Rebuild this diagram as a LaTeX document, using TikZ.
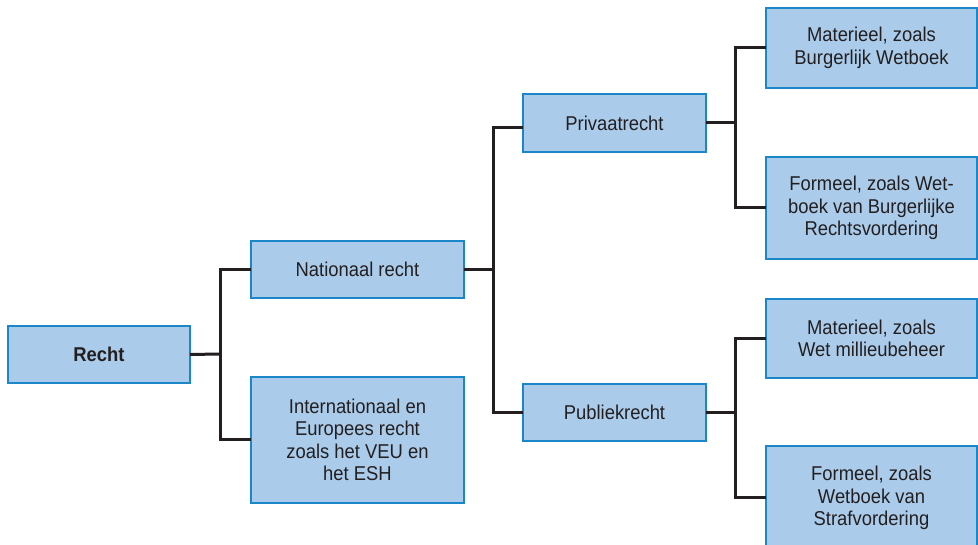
\documentclass[tikz,border=0pt]{standalone}
\usepackage{fontspec}
\setmainfont[FakeStretch=0.92]{Liberation Sans}
\definecolor{boxfill}{HTML}{AACBEA}
\definecolor{boxline}{HTML}{1B86C8}
\definecolor{ink}{HTML}{231F20}
\begin{document}
\begin{tikzpicture}[x=1pt,y=-1pt,
  box/.style={draw=boxline, fill=boxfill, line width=2pt, inner sep=0pt, outer sep=0pt,
    align=center, text=ink, font=\fontsize{20}{22.5}\selectfont},
  conn/.style={draw=ink, line width=3pt}]
\clip (0,0) rectangle (978,545);
\useasboundingbox (0,0) rectangle (978,545);
% nodes
\node[box, minimum width=182pt, minimum height=57pt] (recht) at (99,354.5) {\bfseries Recht};
\node[box, minimum width=213pt, minimum height=57pt] (nat) at (357.5,269.5) {Nationaal recht};
\node[box, minimum width=213pt, minimum height=126pt] (int) at (357.5,440) {Internationaal en\\Europees recht\\zoals het VEU en\\het ESH};
\node[box, minimum width=183pt, minimum height=58pt] (priv) at (614.5,123) {Privaatrecht};
\node[box, minimum width=183pt, minimum height=57pt] (publ) at (614.5,412.5) {Publiekrecht};
\node[box, minimum width=211pt, minimum height=80pt] (matbw) at (871.5,48) {Materieel, zoals\\Burgerlijk Wetboek};
\node[box, minimum width=211pt, minimum height=102pt] (forrv) at (871.5,208) {Formeel, zoals Wet-\\boek van Burgerlijke\\Rechtsvordering};
\node[box, minimum width=211pt, minimum height=79pt] (matwm) at (871.5,338.5) {Materieel, zoals\\Wet millieubeheer};
\node[box, minimum width=211pt, minimum height=104pt] (forsv) at (871.5,498) {Formeel, zoals\\Wetboek van\\Strafvordering};
% junction coordinates
\coordinate (j1) at (220,354);
\coordinate (j2) at (493,269.5);
\coordinate (j3) at (735.5,123);
\coordinate (j4) at (735.5,412.5);
% connectors
\draw[conn] (recht.east) -- (j1);
\draw[conn] (nat.west) -- (nat.west -| j1) -- (int.west -| j1) -- (int.west);
\draw[conn] (nat.east) -- (j2);
\draw[conn] (priv.west |- 0,128) -- (j2 |- 0,128) -- (publ.west -| j2) -- (publ.west);
\draw[conn] (priv.east) -- (j3);
\draw[conn] (matbw.west) -- (matbw.west -| j3) -- (forrv.west -| j3) -- (forrv.west);
\draw[conn] (publ.east) -- (j4);
\draw[conn] (matwm.west) -- (matwm.west -| j4) -- (j4 |- 0,497) -- (forsv.west |- 0,497);
\end{tikzpicture}
\end{document}
